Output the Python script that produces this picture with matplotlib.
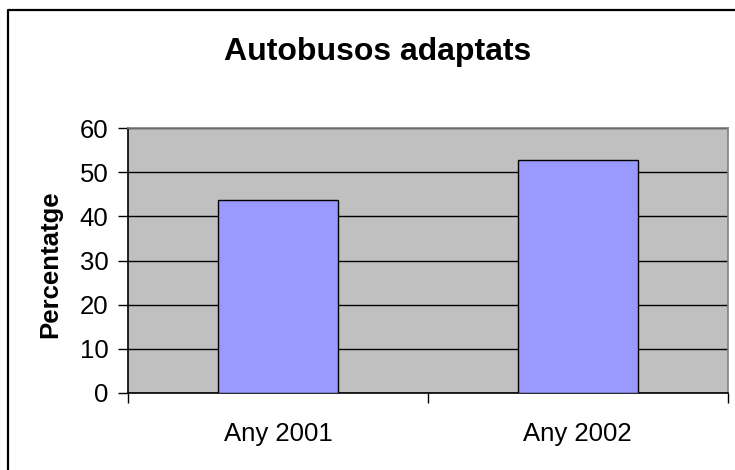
import matplotlib
matplotlib.use("Agg")
import matplotlib.pyplot as plt
from matplotlib.lines import Line2D

# data
categories = ["Any 2001", "Any 2002"]
values = [43.8, 52.7]
yticks = [0, 10, 20, 30, 40, 50, 60]

plt.rcParams["font.family"] = ["Liberation Sans", "DejaVu Sans"]

W, H = 735, 470
fig = plt.figure(figsize=(W / 100, H / 100), dpi=100)
ax = fig.add_axes([128 / W, 1 - 393 / H, (727.5 - 128) / W, (393 - 128) / H])
ax.set_facecolor("#C0C0C0")

x = list(range(len(categories)))
ax.bar(x, values, width=0.4, color="#9999FF", edgecolor="black",
       linewidth=1.0, zorder=3)

ax.set_xlim(-0.5, len(categories) - 0.5)
ax.set_ylim(0, 60)
ax.set_yticks(yticks)
ax.yaxis.grid(True, color="black", linewidth=1.0, zorder=1)
ax.set_axisbelow(True)

# category labels centered, tick marks on category boundaries
ax.set_xticks(x)
ax.set_xticklabels(categories, fontsize=18.5)
ax.set_xticks([i - 0.5 for i in range(len(categories) + 1)], minor=True)
ax.tick_params(axis="x", which="major", length=0, pad=21)
ax.tick_params(axis="x", which="minor", length=7, width=1.0,
               direction="out", color="black")
ax.tick_params(axis="y", length=7, width=1.0, direction="out",
               labelsize=18.5, pad=7)

for side in ["left", "bottom"]:
    ax.spines[side].set_color("black")
    ax.spines[side].set_linewidth(1.2)
for side in ["top", "right"]:
    ax.spines[side].set_color("#808080")
    ax.spines[side].set_linewidth(1.2)

ax.set_ylabel("Percentatge", fontsize=18.5, fontweight="bold", va="center")
ax.yaxis.set_label_coords((50 - 128) / (727.5 - 128), 0.487)

fig.text(377.5 / W, 1 - 60 / H, "Autobusos adaptats", fontsize=23,
         fontweight="bold", ha="center", va="baseline")

# chart frame (runs off the right and bottom edges)
fig.add_artist(Line2D([8 / W, 8 / W, 1.01], [-0.01, 1 - 9.5 / H, 1 - 9.5 / H],
                      transform=fig.transFigure, color="black", linewidth=1.6))

fig.savefig("out.png", dpi=100)
